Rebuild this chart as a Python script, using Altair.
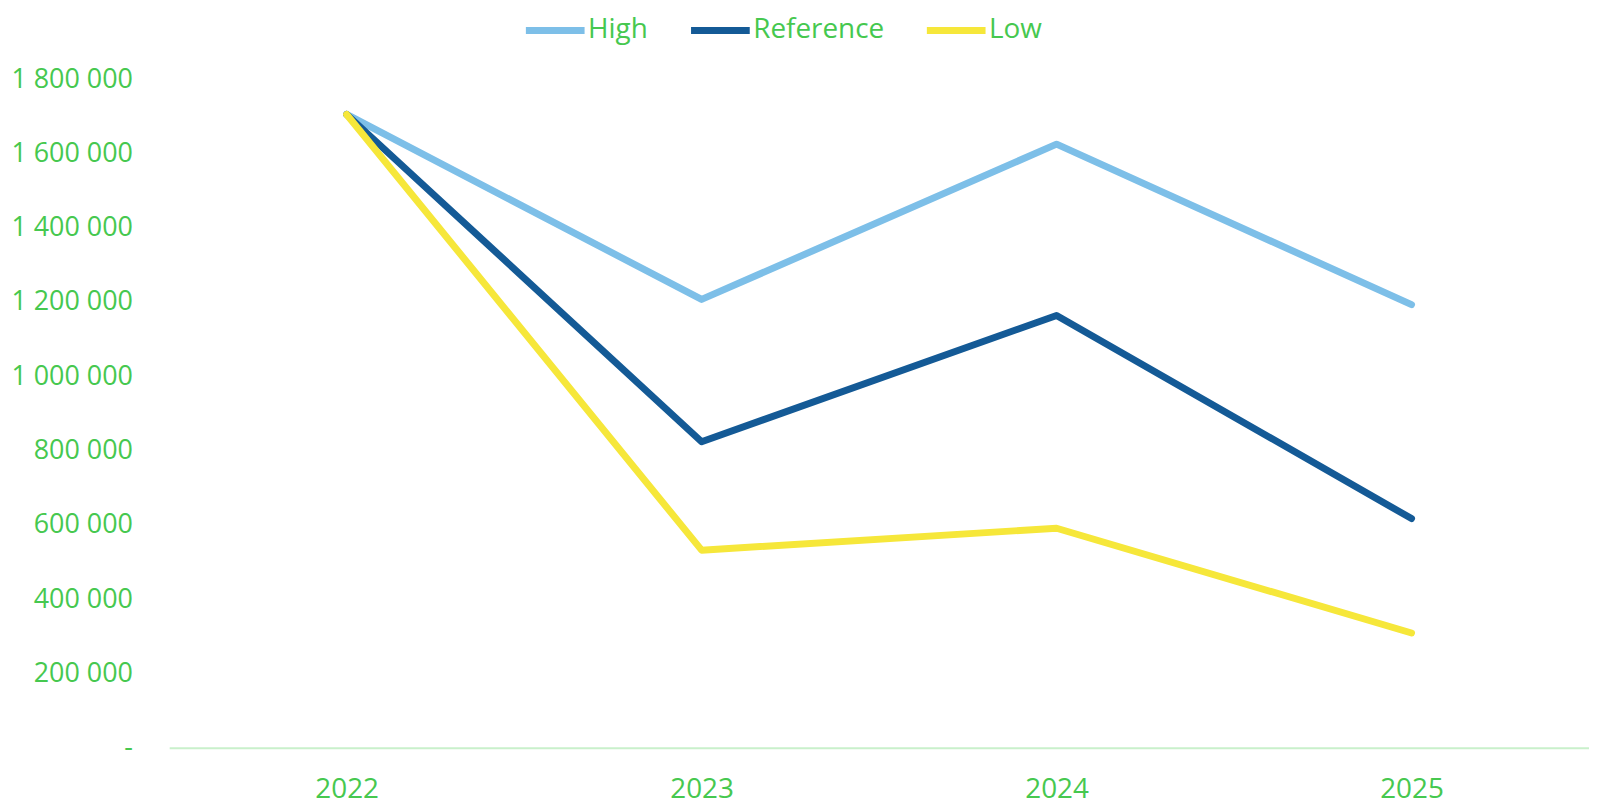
import altair as alt
import pandas as pd

years = ["2022", "2023", "2024", "2025"]
series_names = ["High", "Reference", "Low"]
high = [1705000, 1207000, 1625000, 1193000]
reference = [1705000, 824000, 1164000, 617000]
low = [1705000, 532000, 591000, 309000]
y_ticks = [0, 200000, 400000, 600000, 800000, 1000000, 1200000, 1400000, 1600000, 1800000]
colors = ["#7dbfe8", "#145a96", "#f6e73a"]

rows = []
for name, vals in zip(series_names, [high, reference, low]):
    for yr, v in zip(years, vals):
        rows.append({"year": yr, "series": name, "value": v})
df = pd.DataFrame(rows)

GREEN = "#46c84f"
FONT = "Open Sans"
FS = 28

chart = alt.Chart(df).mark_line(strokeWidth=7, strokeCap="round", strokeJoin="round").encode(
    x=alt.X("year:N", sort=years, title=None,
            axis=alt.Axis(labelAngle=0, ticks=False, grid=False, domain=True,
                          domainColor="#c9f0cb", domainWidth=2,
                          labelColor=GREEN, labelFont=FONT, labelFontSize=FS,
                          labelPadding=28)),
    y=alt.Y("value:Q", title=None,
            scale=alt.Scale(domain=[0, 1800000], nice=False, zero=True),
            axis=alt.Axis(values=y_ticks, ticks=False, grid=False, domain=False,
                          labelColor=GREEN, labelFont=FONT, labelFontSize=27,
                          labelPadding=37, labelAlign="right", labelBaseline="middle",
                          labelExpr="datum.value == 0 ? '-\u00a0\u00a0' : replace(format(datum.value, ','), regexp(',', 'g'), ' ')")),
    color=alt.Color("series:N", sort=series_names,
                    scale=alt.Scale(domain=series_names, range=colors),
                    legend=alt.Legend(title=None, orient="none", direction="horizontal",
                                      legendX=355, legendY=-82, padding=0,
                                      symbolType="stroke", symbolSize=3481, symbolStrokeWidth=7,
                                      labelOffset=0, columnPadding=28,
                                      labelColor=GREEN, labelFont=FONT, labelFontSize=FS,
                                      labelLimit=300)),
    order=alt.Order("year:N"),
).properties(
    width=1427,
    height=672,
    autosize=alt.AutoSizeParams(type="none"),
    padding={"left": 162, "top": 69.5, "right": 0, "bottom": 57.5},
).configure_view(stroke=None)

chart.save("out.html", embed_options={"renderer": "svg", "actions": False})
